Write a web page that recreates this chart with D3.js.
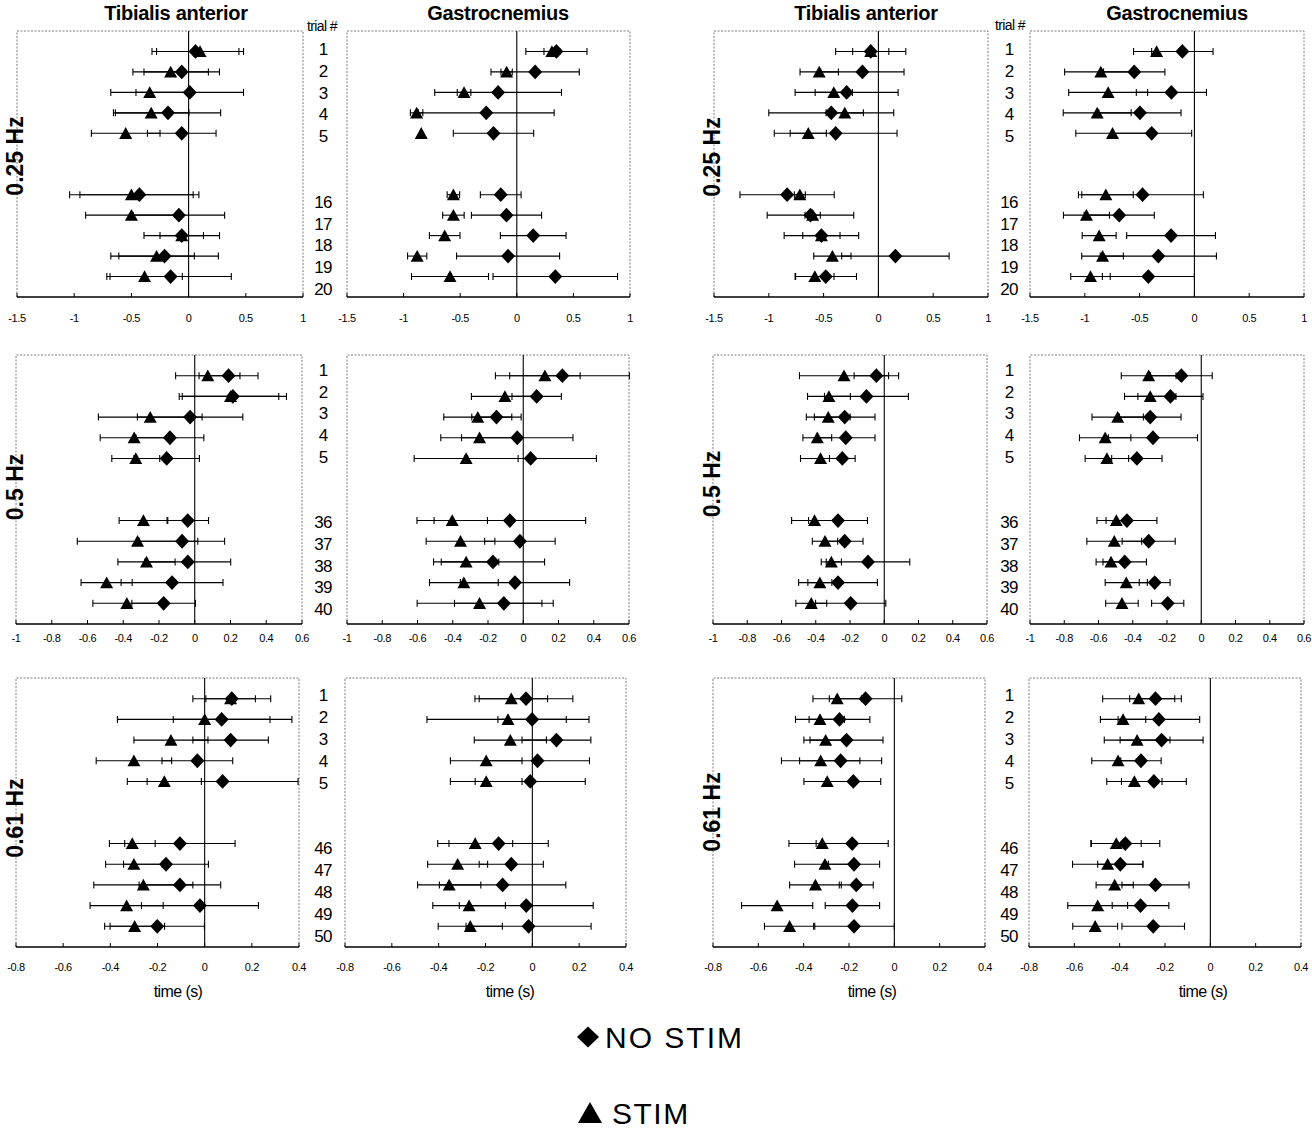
<!DOCTYPE html>
<html><head><meta charset="utf-8">
<script src="https://cdn.jsdelivr.net/npm/d3@7"></script>
<style>body{margin:0;background:#fff} svg{display:block} text{font-family:"Liberation Sans",Arial,sans-serif;fill:#000}</style>
</head><body><svg id="c" width="1312" height="1134"></svg>
<script>
// ---------------- DATA ----------------
const slotIndex = [0,1,2,3,4,7,8,9,10,11];
const trials025 = ["1","2","3","4","5","16","17","18","19","20"];
const trials05  = ["1","2","3","4","5","36","37","38","39","40"];
const trials061 = ["1","2","3","4","5","46","47","48","49","50"];
const muscles = ["Tibialis anterior","Gastrocnemius"];
const freqLabels = ["0.25 Hz","0.5 Hz","0.61 Hz"];
const legendLabels = ["NO STIM","STIM"];
const ticks025 = [-1.5,-1,-0.5,0,0.5,1];
const tickLabels025 = ["-1.5","-1","-0.5","0","0.5","1"];
const ticks05 = [-1,-0.8,-0.6,-0.4,-0.2,0,0.2,0.4,0.6];
const tickLabels05 = ["-1","-0.8","-0.6","-0.4","-0.2","0","0.2","0.4","0.6"];
const ticks061 = [-0.8,-0.6,-0.4,-0.2,0,0.2,0.4];
const tickLabels061 = ["-0.8","-0.6","-0.4","-0.2","0","0.2","0.4"];

// subject 1 (left half)
const s1TA025NoStim    = [0.06,-0.06,0.01,-0.18,-0.06,-0.43,-0.085,-0.06,-0.21,-0.157];
const s1TA025NoStimErr = [0.38,0.33,0.47,0.46,0.30,0.52,0.40,0.33,0.47,0.53];
const s1TA025Stim      = [0.10,-0.157,-0.34,-0.327,-0.55,-0.50,-0.50,-0.06,-0.28,-0.385];
const s1TA025StimErr   = [0.38,0.33,0.34,0.33,0.30,0.54,0.40,0.19,0.33,0.33];

const s1GA025NoStim    = [0.35,0.162,-0.165,-0.27,-0.206,-0.142,-0.091,0.145,-0.077,0.34];
const s1GA025NoStimErr = [0.27,0.39,0.56,0.60,0.355,0.18,0.31,0.29,0.455,0.55];
const s1GA025Stim      = [0.31,-0.09,-0.466,-0.885,-0.844,-0.56,-0.56,-0.637,-0.88,-0.59];
const s1GA025StimErr   = [0.07,0.05,0.06,0.055,0,0.055,0.095,0.135,0.085,0.34];

const s1TA05NoStim     = [0.189,0.213,-0.026,-0.139,-0.157,-0.039,-0.071,-0.039,-0.127,-0.174];
const s1TA05NoStimErr  = [0.165,0.30,0.295,0.19,0.183,0.116,0.238,0.24,0.285,0.178];
const s1TA05Stim       = [0.073,0.20,-0.249,-0.339,-0.33,-0.287,-0.32,-0.27,-0.493,-0.38];
const s1TA05StimErr    = [0.18,0.27,0.29,0.19,0.134,0.136,0.337,0.16,0.143,0.19];

const s1GA05NoStim     = [0.222,0.076,-0.152,-0.034,0.042,-0.076,-0.019,-0.172,-0.047,-0.11];
const s1GA05NoStimErr  = [0.38,0.14,0.14,0.316,0.373,0.43,0.2,0.293,0.31,0.28];
const s1GA05Stim       = [0.123,-0.104,-0.258,-0.248,-0.324,-0.403,-0.356,-0.324,-0.337,-0.248];
const s1GA05StimErr    = [0.20,0.19,0.193,0.22,0.295,0.2,0.195,0.185,0.195,0.354];

const s1TA061NoStim    = [0.115,0.072,0.11,-0.031,0.076,-0.105,-0.164,-0.105,-0.02,-0.201];
const s1TA061NoStimErr = [0.165,0.205,0.16,0.15,0.32,0.234,0.18,0.173,0.248,0.2];
const s1TA061Stim      = [0.11,0.0,-0.143,-0.30,-0.171,-0.307,-0.30,-0.26,-0.331,-0.297];
const s1TA061StimErr   = [0.105,0.37,0.157,0.16,0.157,0.097,0.12,0.21,0.155,0.127];

const s1GA061NoStim    = [-0.027,-0.001,0.103,0.022,-0.009,-0.144,-0.09,-0.127,-0.026,-0.016];
const s1GA061NoStimErr = [0.2,0.146,0.147,0.222,0.235,0.212,0.137,0.27,0.286,0.267];
const s1GA061Stim      = [-0.09,-0.104,-0.094,-0.197,-0.197,-0.244,-0.319,-0.355,-0.27,-0.265];
const s1GA061StimErr   = [0.155,0.346,0.154,0.153,0.153,0.16,0.128,0.135,0.155,0.137];

// subject 2 (right half)
const s2TA025NoStim    = [-0.07,-0.146,-0.29,-0.43,-0.39,-0.833,-0.62,-0.52,0.155,-0.48];
const s2TA025NoStimErr = [0.32,0.38,0.47,0.57,0.56,0.43,0.395,0.34,0.49,0.28];
const s2TA025Stim      = [-0.07,-0.54,-0.407,-0.307,-0.64,-0.717,-0.60,-0.52,-0.42,-0.58];
const s2TA025StimErr   = [0.165,0.175,0.17,0.17,0.165,0.05,0.07,0.17,0.17,0.175];

const s2GA025NoStim    = [-0.11,-0.549,-0.21,-0.497,-0.39,-0.473,-0.686,-0.213,-0.329,-0.42];
const s2GA025NoStimErr = [0.28,0.28,0.32,0.375,0.365,0.555,0.32,0.405,0.53,0.42];
const s2GA025Stim      = [-0.345,-0.854,-0.787,-0.887,-0.747,-0.808,-0.985,-0.869,-0.838,-0.948];
const s2GA025StimErr   = [0.21,0.33,0.36,0.31,0.335,0.25,0.21,0.155,0.19,0.18];

const s2TA05NoStim     = [-0.046,-0.104,-0.231,-0.225,-0.245,-0.27,-0.231,-0.095,-0.27,-0.196];
const s2TA05NoStimErr  = [0.13,0.245,0.177,0.171,0.075,0.172,0.107,0.244,0.23,0.205];
const s2TA05Stim       = [-0.235,-0.323,-0.327,-0.391,-0.372,-0.407,-0.346,-0.309,-0.376,-0.426];
const s2TA05StimErr    = [0.26,0.125,0.128,0.084,0.117,0.134,0.074,0.059,0.07,0.09];

const s2GA05NoStim     = [-0.116,-0.18,-0.298,-0.282,-0.376,-0.434,-0.307,-0.447,-0.272,-0.196];
const s2GA05NoStimErr  = [0.18,0.19,0.18,0.26,0.147,0.175,0.155,0.127,0.09,0.094];
const s2GA05Stim       = [-0.307,-0.298,-0.488,-0.561,-0.551,-0.496,-0.508,-0.527,-0.438,-0.463];
const s2GA05StimErr    = [0.16,0.15,0.15,0.15,0.127,0.06,0.16,0.087,0.123,0.095];

const s2TA061NoStim    = [-0.127,-0.242,-0.211,-0.237,-0.181,-0.186,-0.178,-0.168,-0.185,-0.178];
const s2TA061NoStimErr = [0.16,0.134,0.161,0.181,0.121,0.159,0.113,0.075,0.12,0.178];
const s2TA061Stim      = [-0.252,-0.328,-0.303,-0.325,-0.296,-0.318,-0.306,-0.348,-0.517,-0.462];
const s2TA061StimErr   = [0.107,0.108,0.096,0.173,0.103,0.147,0.134,0.114,0.157,0.111];

const s2GA061NoStim    = [-0.242,-0.227,-0.215,-0.306,-0.249,-0.375,-0.397,-0.242,-0.308,-0.252];
const s2GA061NoStimErr = [0.114,0.18,0.183,0.089,0.143,0.152,0.1,0.148,0.125,0.138];
const s2GA061Stim      = [-0.316,-0.385,-0.323,-0.407,-0.335,-0.415,-0.453,-0.422,-0.497,-0.508];
const s2GA061StimErr   = [0.159,0.1,0.145,0.116,0.122,0.11,0.155,0.082,0.132,0.099];

// ---------------- LAYOUT ----------------
const colX = [
  [[17,303],[347,630],[714,988],[1030,1304]],
  [[16,302],[347,629],[713,987],[1030,1304]],
  [[16,299],[345,626],[713,985],[1029,1301]]
];
const rowY = [[31,297],[355,624],[678,947]];
const labelYRange = [[49,289],[370,609],[695,936]];
const tickLabelY = [318,638,967];
const rowTicks = [[ticks025,tickLabels025,[-1.5,1]],[ticks05,tickLabels05,[-1,0.6]],[ticks061,tickLabels061,[-0.8,0.4]]];
const rowTrials = [trials025,trials05,trials061];
const series = [
  [[s1TA025NoStim,s1TA025NoStimErr,s1TA025Stim,s1TA025StimErr],[s1GA025NoStim,s1GA025NoStimErr,s1GA025Stim,s1GA025StimErr],
   [s2TA025NoStim,s2TA025NoStimErr,s2TA025Stim,s2TA025StimErr],[s2GA025NoStim,s2GA025NoStimErr,s2GA025Stim,s2GA025StimErr]],
  [[s1TA05NoStim,s1TA05NoStimErr,s1TA05Stim,s1TA05StimErr],[s1GA05NoStim,s1GA05NoStimErr,s1GA05Stim,s1GA05StimErr],
   [s2TA05NoStim,s2TA05NoStimErr,s2TA05Stim,s2TA05StimErr],[s2GA05NoStim,s2GA05NoStimErr,s2GA05Stim,s2GA05StimErr]],
  [[s1TA061NoStim,s1TA061NoStimErr,s1TA061Stim,s1TA061StimErr],[s1GA061NoStim,s1GA061NoStimErr,s1GA061Stim,s1GA061StimErr],
   [s2TA061NoStim,s2TA061NoStimErr,s2TA061Stim,s2TA061StimErr],[s2GA061NoStim,s2GA061NoStimErr,s2GA061Stim,s2GA061StimErr]]
];

const svg = d3.select("#c");
const diamondPath = (w,h) => `M0,${-h}L${w},0L0,${h}L${-w},0Z`;
const trianglePath = (w,h) => `M0,${-h}L${w},${h*0.9}L${-w},${h*0.9}Z`;

for (let r = 0; r < 3; r++) {
  const [top, bottom] = rowY[r];
  const [tks, tkl, dom] = rowTicks[r];
  const y = d3.scaleLinear().domain([-1, 12]).range([top, bottom]);
  for (let c = 0; c < 4; c++) {
    const [left, right] = colX[r][c];
    const x = d3.scaleLinear().domain(dom).range([left, right]);
    const g = svg.append("g");
    // dotted frame
    g.append("path").attr("d", `M${left},${bottom}V${top}H${right}V${bottom}`)
      .attr("fill","none").attr("stroke","#7a7a7a").attr("stroke-width",1).attr("stroke-dasharray","2,1.5");
    // bottom axis
    g.append("line").attr("x1",left).attr("x2",right).attr("y1",bottom).attr("y2",bottom)
      .attr("stroke","#000").attr("stroke-width",1.3);
    g.selectAll("line.tk").data(tks).enter().append("line").attr("class","tk")
      .attr("x1",d=>x(d)).attr("x2",d=>x(d)).attr("y1",bottom).attr("y2",bottom-4)
      .attr("stroke","#000").attr("stroke-width",1);
    g.selectAll("text.tl").data(tks).enter().append("text").attr("class","tl")
      .attr("x",d=>x(d)).attr("y",tickLabelY[r]+4).attr("text-anchor","middle")
      .attr("font-size",11).attr("letter-spacing",-0.4).text((d,i)=>tkl[i]);
    // zero line
    g.append("line").attr("x1",x(0)).attr("x2",x(0)).attr("y1",top).attr("y2",bottom)
      .attr("stroke","#000").attr("stroke-width",1.1);

    const [ns, nsErr, st, stErr] = series[r][c];
    const drawSeries = (vals, errs, kind) => {
      const data = vals.map((v,i)=>({v, e: errs[i], s: slotIndex[i]}));
      const eg = g.append("g").attr("stroke","#000").attr("stroke-width",1.1);
      data.forEach(d => {
        if (d.e > 0) {
          eg.append("line").attr("x1",x(d.v-d.e)).attr("x2",x(d.v+d.e)).attr("y1",y(d.s)).attr("y2",y(d.s));
          eg.append("line").attr("x1",x(d.v-d.e)).attr("x2",x(d.v-d.e)).attr("y1",y(d.s)-3.5).attr("y2",y(d.s)+3.5);
          eg.append("line").attr("x1",x(d.v+d.e)).attr("x2",x(d.v+d.e)).attr("y1",y(d.s)-3.5).attr("y2",y(d.s)+3.5);
        }
      });
      g.selectAll(null).data(data).enter().append("path")
        .attr("transform", d=>`translate(${x(d.v)},${y(d.s)})`)
        .attr("d", kind === "d" ? diamondPath(7,7.4) : trianglePath(6.5,6.2))
        .attr("fill","#000");
    };
    drawSeries(st, stErr, "t");
    drawSeries(ns, nsErr, "d");
  }
  // trial labels
  const ly = d3.scaleLinear().domain([0, 11]).range(labelYRange[r]);
  [323, 1009].forEach(lx => {
    svg.selectAll(null).data(rowTrials[r]).enter().append("text")
      .attr("x", lx).attr("y", (d,i)=>ly(slotIndex[i])+6).attr("text-anchor","middle")
      .attr("font-size",17).attr("letter-spacing",-0.8).text(d=>d);
  });
  // frequency labels
  const fy = [[156,157],[487,484],[818,812]][r];
  [[15,fy[0]],[712,fy[1]]].forEach(([fx,fyy]) => {
    svg.append("text").attr("transform",`translate(${fx},${fyy}) rotate(-90)`)
      .attr("text-anchor","middle").attr("dominant-baseline","central")
      .attr("font-size",23).attr("font-weight","bold").attr("letter-spacing",0).text(freqLabels[r]);
  });
}

// titles
[[176,0],[498,1],[866,0],[1177,1]].forEach(([tx,m]) => {
  svg.append("text").attr("x",tx).attr("y",20).attr("text-anchor","middle")
    .attr("font-size",20).attr("font-weight","bold").attr("letter-spacing",-0.3).text(muscles[m]);
});
[[322,31],[1010,30]].forEach(([tx,ty]) => {
  svg.append("text").attr("x",tx).attr("y",ty).attr("text-anchor","middle")
    .attr("font-size",14).attr("letter-spacing",-0.6).text("trial #");
});
// x axis titles
[178,510,872,1203].forEach(tx => {
  svg.append("text").attr("x",tx).attr("y",997).attr("text-anchor","middle")
    .attr("font-size",16).attr("letter-spacing",-0.6).text("time (s)");
});
// legend
svg.append("path").attr("transform","translate(588,1037)").attr("d",diamondPath(11,10.5)).attr("fill","#000");
svg.append("text").attr("x",605).attr("y",1048).attr("font-size",30).attr("letter-spacing",2).text(legendLabels[0]);
svg.append("path").attr("transform","translate(590,1113)").attr("d",trianglePath(12,11)).attr("fill","#000");
svg.append("text").attr("x",612).attr("y",1124).attr("font-size",30).attr("letter-spacing",1.5).text(legendLabels[1]);
</script></body></html>
